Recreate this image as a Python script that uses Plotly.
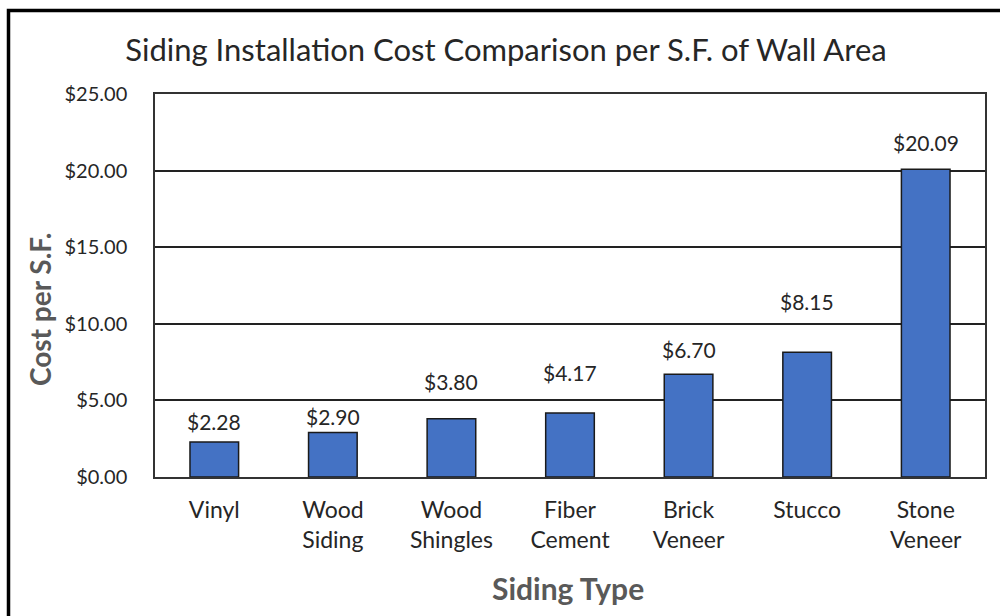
import plotly.graph_objects as go

categories = ["Vinyl", "Wood<br>Siding", "Wood<br>Shingles", "Fiber<br>Cement", "Brick<br>Veneer", "Stucco", "Stone<br>Veneer"]
costs = [2.28, 2.90, 3.80, 4.17, 6.70, 8.15, 20.09]
tick_vals = [0, 5, 10, 15, 20, 25]
tick_text = ["$0.00", "$5.00", "$10.00", "$15.00", "$20.00", "$25.00"]
labels = ["$%.2f" % v for v in costs]

# label placement (pixels above bar top, as in the reference)
label_offsets_px = [21, 16, 37, 41, 25, 51, 27]

W, H = 1000, 616
L, R, T, B = 155, 985, 94, 477

fig = go.Figure(go.Bar(
    x=categories, y=costs,
    marker=dict(color="#4472C4", line=dict(color="#1a1a1a", width=1.5)),
    width=0.41, hoverinfo="x+y",
))

for cat, val, lab, off in zip(categories, costs, labels, label_offsets_px):
    fig.add_annotation(x=cat, y=val, xref="x", yref="y", text=lab, showarrow=False,
                       yanchor="middle", yshift=off,
                       font=dict(size=21, color="#262626", family="Lato"))

def px2x(p):
    return (p - L) / (R - L)

def px2y(p):
    return (B - p) / (B - T)

fig.add_shape(type="rect", xref="paper", yref="paper",
              x0=px2x(8.5), x1=px2x(1010), y0=px2y(630), y1=px2y(10.5),
              line=dict(color="black", width=3.5), fillcolor="rgba(0,0,0,0)", layer="below")

fig.add_annotation(text="<b>Siding Type</b>", xref="paper", yref="paper",
                   x=px2x(568), y=px2y(588), xanchor="center", yanchor="middle",
                   showarrow=False, font=dict(size=30, color="#595959", family="Lato"))
fig.add_annotation(text="<b>Cost per S.F.</b>", xref="paper", yref="paper",
                   x=px2x(40), y=px2y(310), xanchor="center", yanchor="middle",
                   textangle=-90,
                   showarrow=False, font=dict(size=28, color="#595959", family="Lato"))

fig.update_layout(
    width=W, height=H,
    margin=dict(l=L, r=W - R, t=T, b=H - B, pad=0),
    paper_bgcolor="white", plot_bgcolor="white",
    font=dict(family="Lato", color="#262626"),
    title=dict(text="Siding Installation Cost Comparison per S.F. of Wall Area",
               x=px2x(506), xref="paper", xanchor="center",
               y=1 - 50 / H, yanchor="middle",
               font=dict(size=31, color="#262626", family="Lato")),
    showlegend=False,
)
fig.update_xaxes(
    showline=True, linecolor="#333333", linewidth=1.5, mirror=True,
    tickfont=dict(size=23, color="#262626"), ticks="", ticklabelstandoff=12,
)
fig.update_yaxes(
    range=[0, 25], tickvals=tick_vals, ticktext=tick_text,
    showline=True, linecolor="#333333", linewidth=1.5, mirror=True,
    showgrid=True, gridcolor="#222222", gridwidth=1.5,
    tickfont=dict(size=20, color="#262626"), ticks="", ticklabelstandoff=22,
    zeroline=False,
)
fig.write_html("out.html", config={"displayModeBar": False},
               post_script="document.body.style.margin='0px';document.body.style.overflow='hidden';")
